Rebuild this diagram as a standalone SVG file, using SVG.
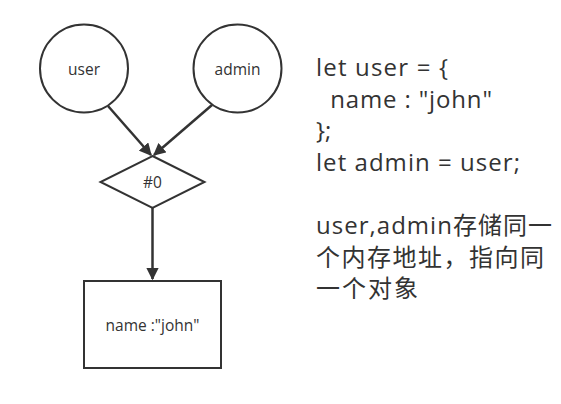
<svg xmlns="http://www.w3.org/2000/svg" width="561" height="404" viewBox="0 0 561 404">
<defs>
<style>
.shape{fill:#ffffff;stroke:#333333;stroke-width:2}
.lbl{font-family:"Open Sans","Noto Sans","Noto Sans CJK SC",sans-serif;font-size:15.5px;fill:#333333;text-anchor:middle;dominant-baseline:central}
.code{font-family:"Open Sans","Noto Sans","Noto Sans CJK SC",sans-serif;font-size:24px;fill:#333333}
.edge{fill:none;stroke:#333333;stroke-width:2.5}
</style>
<marker id="arr" viewBox="0 0 10 10" refX="9" refY="5" markerWidth="5" markerHeight="5" orient="auto" markerUnits="strokeWidth">
<path d="M0,0 L10,5 L0,10 Z" fill="#333333"/>
</marker>
</defs>
<rect width="561" height="404" fill="#ffffff"/>
<g id="connectors">
<line class="edge" x1="108" y1="106" x2="151" y2="155" marker-end="url(#arr)"/>
<line class="edge" x1="212" y1="105" x2="154" y2="155" marker-end="url(#arr)"/>
<line class="edge" x1="152.5" y1="208" x2="152.5" y2="279" marker-end="url(#arr)"/>
</g>
<g id="user">
<circle class="shape" cx="84" cy="68.5" r="44"/>
<text class="lbl" x="84" y="68.5">user</text>
</g>
<g id="admin">
<circle class="shape" cx="237.5" cy="68.5" r="44"/>
<text class="lbl" x="237.5" y="68.5">admin</text>
</g>
<g id="ref">
<polygon class="shape" points="152.5,156 204.5,182 152.5,208 100.5,182"/>
<text class="lbl" x="152.5" y="182">#0</text>
</g>
<g id="object">
<rect class="shape" x="84" y="281" width="137" height="87"/>
<text class="lbl" x="152.5" y="325">name :"john"</text>
</g>
<g id="code">
<text class="code" x="316" y="76" xml:space="preserve" textLength="132" lengthAdjust="spacing">let user = {</text>
<text class="code" x="316" y="107.5" xml:space="preserve" textLength="176" lengthAdjust="spacing">  name : "john"</text>
<text class="code" x="316" y="139">};</text>
<text class="code" x="316" y="170.5" textLength="204" lengthAdjust="spacing">let admin = user;</text>
<text class="code" x="316" y="234" textLength="236" lengthAdjust="spacing">user,admin存储同一</text>
<text class="code" x="316" y="265.5" textLength="228" lengthAdjust="spacing">个内存地址，指向同</text>
<text class="code" x="316" y="297" textLength="102" lengthAdjust="spacing">一个对象</text>
</g>
</svg>
